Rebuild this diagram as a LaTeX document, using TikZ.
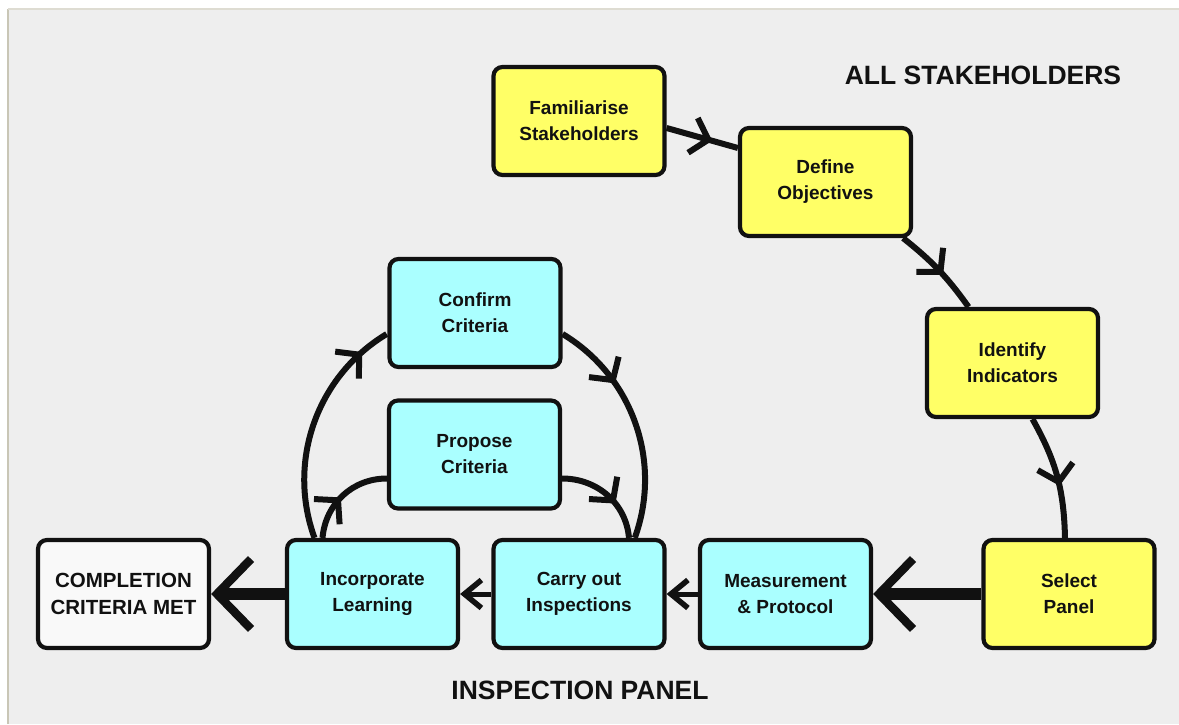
\documentclass[tikz,border=0pt]{standalone}
\usepackage{fontspec}
\setmainfont{Liberation Sans}
\usetikzlibrary{arrows.meta,decorations.markings}
\definecolor{bg}{HTML}{EEEEEE}
\definecolor{ylw}{HTML}{FFFF66}
\definecolor{cyn}{HTML}{AAFFFF}
\definecolor{wht}{HTML}{F9F9F9}
\definecolor{ink}{HTML}{111111}
\definecolor{edgeline}{HTML}{C9C6B6}
\definecolor{topline}{HTML}{DEDCD2}
\begin{document}
\begin{tikzpicture}[x=1pt,y=1pt,
  box/.style={draw=ink, line width=4.2pt, rounded corners=9pt, minimum width=171pt,
    minimum height=108pt, inner sep=0pt, align=center,
    font=\fontsize{19}{26}\selectfont\bfseries, text=ink},
  ybox/.style={box, fill=ylw},
  cbox/.style={box, fill=cyn},
  wbox/.style={box, fill=wht, font=\fontsize{20.5}{27}\selectfont\bfseries},
  flow/.style={draw=ink, line width=6pt},
  midarr/.style={postaction=decorate, decoration={markings,
    mark=at position #1 with {\arrow{Straight Barb[length=16pt,width=36pt,line width=6pt]}}}},
  bigflow/.style={draw=ink, line width=12pt, -{Straight Barb[length=34pt,width=70pt,line width=8.5pt]}},
  smallflow/.style={draw=ink, line width=5pt, -{Straight Barb[length=17pt,width=28pt,line width=5.5pt]}},
  heading/.style={font=\fontsize{26.5}{30}\selectfont\bfseries, text=ink}
]
\useasboundingbox (0,0) rectangle (1179,724);
\fill[white] (0,0) rectangle (1179,724);
\fill[bg] (7,0) rectangle (1179,715);
\draw[edgeline, line width=2pt] (8,0) -- (8,715);
\draw[topline, line width=1.5pt] (8,715) -- (1179,715);

% nodes
\node[ybox] (fam) at (579,603) {Familiarise\\Stakeholders};
\node[ybox] (def) at (825.5,542) {Define\\Objectives};
\node[ybox] (ide) at (1012.5,361) {Identify\\Indicators};
\node[ybox] (sel) at (1069,130) {Select\\Panel};
\node[cbox] (mea) at (785.5,130) {Measurement\\\& Protocol};
\node[cbox] (car) at (579,130) {Carry out\\Inspections};
\node[cbox] (inc) at (372.5,130) {Incorporate\\Learning};
\node[wbox] (com) at (123.5,130) {COMPLETION\\CRITERIA MET};
\node[cbox] (con) at (475,411) {Confirm\\Criteria};
\node[cbox] (pro) at (474.5,269.5) {Propose\\Criteria};

\node[heading] (allst) at (983,649) {ALL STAKEHOLDERS};
\node[heading] (insp) at (580,34) {INSPECTION PANEL};

% upper chain
\draw[flow, midarr=0.64] ([yshift=-7pt]fam.east) -- ([yshift=34pt]def.west);
\draw[flow, midarr=0.57] ([xshift=-10pt]def.south east) to[bend left=8] ([xshift=-44pt]ide.north);
\draw[flow, midarr=0.58] ([xshift=20pt]ide.south) to[bend left=14] ([xshift=-4pt]sel.north);

% bottom row
\draw[bigflow] (sel.west) -- (mea.east);
\draw[smallflow] (mea.west) -- (car.east);
\draw[smallflow] (car.west) -- (inc.east);
\draw[bigflow] (inc.west) -- (com.east);

% loops
\draw[flow, midarr=0.87] ([xshift=-58pt]inc.north) arc[start angle=200, end angle=121, radius=170pt];
\draw[flow, midarr=0.31] ([yshift=-21pt]con.east) arc[start angle=59, end angle=-20, radius=170pt];
\draw[flow, midarr=0.47] ([xshift=-50pt]inc.north) to[out=85, in=180] ([yshift=-24pt]pro.west);
\draw[flow, midarr=0.62] ([yshift=-24pt]pro.east) to[out=0, in=95] ([xshift=50pt]car.north);
\end{tikzpicture}
\end{document}
